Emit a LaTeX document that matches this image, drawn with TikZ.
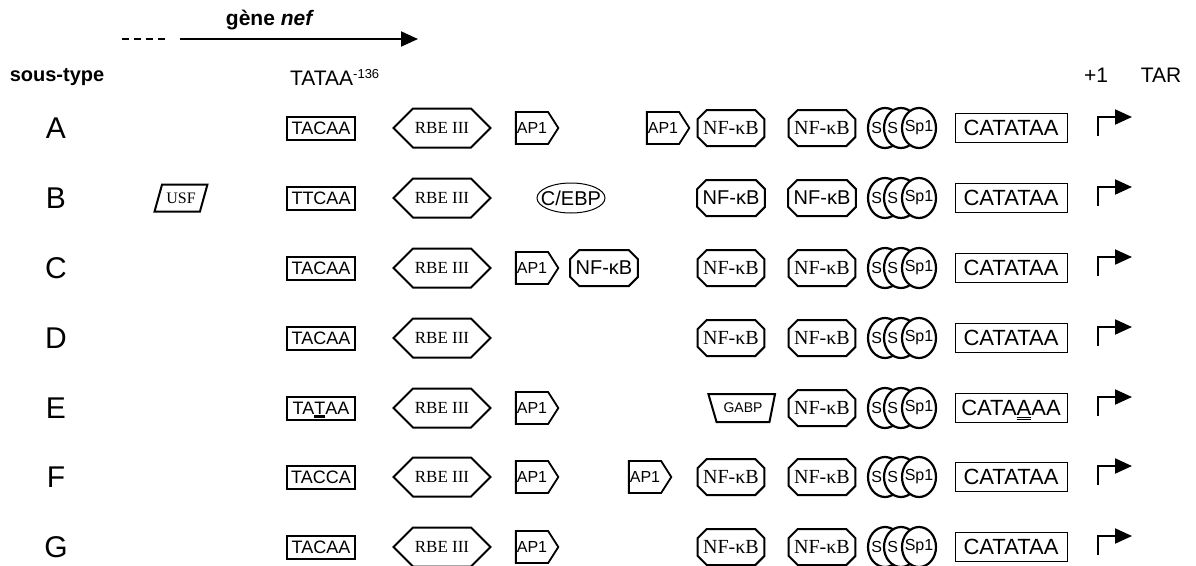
\documentclass[tikz,border=0pt]{standalone}
\usepackage{fontspec}
\setmainfont{Liberation Sans}
\newfontfamily\tnr{Liberation Serif}
\usetikzlibrary{shapes}
\usetikzlibrary{arrows.meta}
\newcommand\fsz[1]{\fontsize{#1}{#1}\selectfont}
\newcommand\ulT{\leavevmode\smash{\vtop{\hbox{T}\kern1pt\hrule height 2.5pt}}}
\newcommand\ulA{\leavevmode\smash{\vtop{\hbox{A}\kern1.5pt\hrule height 0.8pt\kern1.2pt\hrule height 0.8pt}}}

\begin{document}
\begin{tikzpicture}[x=1pt,y=-1pt]
	\tikzstyle{lett}=[font=\fsz{30}]
	\tikzstyle{seq}=[draw,rectangle,line width=2pt,minimum width=68pt,minimum height=23pt,inner sep=1pt,font=\fsz{18}]
	\tikzstyle{rbe}=[draw,signal,signal to=west and east,line width=2pt,minimum width=97pt,minimum height=39pt,inner sep=1pt,font=\tnr\fsz{17}]
	\tikzstyle{ap}=[draw,signal,signal to=east,signal pointer angle=115,line width=1.8pt,minimum width=40pt,minimum height=32pt,inner sep=1pt,font=\fsz{16}]
	\tikzstyle{nfkb}=[draw,chamfered rectangle,chamfered rectangle sep=4.5pt,line width=2pt,minimum width=66pt,minimum height=36pt,inner sep=1pt]
	\tikzstyle{sp}=[draw,ellipse,fill=white,line width=2.2pt,minimum width=34pt,minimum height=40pt,inner sep=0pt,font=\fsz{16}]
	\tikzstyle{cat}=[draw,rectangle,line width=1pt,minimum width=112pt,minimum height=29pt,inner sep=1pt,font=\fsz{22}]
	\tikzstyle{tss}=[line width=2pt,-{Triangle[length=17pt,width=15pt]}]
	\useasboundingbox (0,0) rectangle (1196,565);

	% en-tete
	\coordinate (nefa) at (122,39);
	\coordinate (nefb) at (168,39);
	\coordinate (nefc) at (180,39);
	\coordinate (nefd) at (418,39);
	\draw[line width=2pt,dash pattern=on 7pt off 5pt] (nefa) -- (nefb);
	\draw[line width=2pt,-{Triangle[length=17pt,width=15pt]}] (nefc) -- (nefd);
	\node[font=\fsz{21}\bfseries] (nef) at (270,20) {gène \textit{nef}};
	\node[font=\fsz{20}\bfseries] (st) at (57,77) {sous-type};
	\node[font=\fsz{21},anchor=west,inner sep=0pt] (tata) at (290,77) {TATAA\raisebox{7pt}{\fsz{13}-136}};
	\node[font=\fsz{21}] (plus) at (1096,75) {+1};
	\node[font=\fsz{21}] (tar) at (1161,75) {TAR};

	% lignes
	\foreach \r/\yy/\tbx/\cbx/\nff in {A/128/TACAA/CATATAA/\tnr, B/198/TTCAA/CATATAA/\relax, C/268/TACAA/CATATAA/\tnr, D/338/TACAA/CATATAA/\tnr, E/408/TA\ulT AA/CATA\ulA AA/\tnr, F/477/TACCA/CATATAA/\tnr, G/547/TACAA/CATATAA/\tnr}
	{
		\node[lett] (l\r) at (56,\yy) {\r};
		\node[seq] (s\r) at (321,\yy) {\tbx};
		\node[rbe] (rbe\r) at (442,\yy) {RBE III};
		\node[nfkb,font=\nff\fsz{20}] (nfb\r) at (822,\yy) {NF-κB};
		\node[sp] (spa\r) at (885,\yy) {\makebox[0pt][r]{S\hspace{3pt}}};
		\node[sp] (spb\r) at (901,\yy) {\makebox[0pt][r]{S\hspace{3pt}}};
		\node[sp] (spc\r) at (919,\yy) {\makebox[0pt]{Sp1}};
		\node[cat] (cat\r) at (1011,\yy) {\cbx};
		\coordinate (tssa\r) at (1098,\yy+8);
		\coordinate (tssb\r) at (1132,\yy-11);
		\draw[tss] (tssa\r) |- (tssb\r);
	}
	\foreach \r/\yy/\nff in {A/128/\tnr, B/198/\relax, C/268/\tnr, D/338/\tnr, F/477/\tnr, G/547/\tnr}
		\node[nfkb,font=\nff\fsz{20}] (nfa\r) at (731,\yy) {NF-κB};
	\foreach \r/\yy in {A/128, C/268, E/408, F/477, G/547}
		\node[ap] (ap\r) at (532,\yy) {AP1};

	% sites propres a un sous-type
	\node[ap] (apA2) at (663,128) {AP1};
	\node[ap] (apF2) at (645,477) {AP1};
	\node[draw,trapezium,trapezium left angle=64,trapezium right angle=116,trapezium stretches=true,line width=2pt,minimum width=53pt,minimum height=27pt,inner sep=1pt,font=\tnr\fsz{16}] (usf) at (181,198) {USF};
	\node[draw,ellipse,line width=1pt,minimum width=68pt,minimum height=30pt,inner sep=0pt,font=\fsz{20}] (cebp) at (571,198) {\makebox[0pt]{C/EBP}};
	\node[nfkb,font=\fsz{20}] (nfC2) at (604,268) {NF-κB};
	\node[draw,trapezium,trapezium left angle=70,trapezium right angle=62,trapezium stretches=true,shape border rotate=180,line width=2pt,minimum width=67pt,minimum height=28pt,inner sep=1pt,font=\fsz{14}] (gabp) at (743,408) {GABP};
\end{tikzpicture}
\end{document}
